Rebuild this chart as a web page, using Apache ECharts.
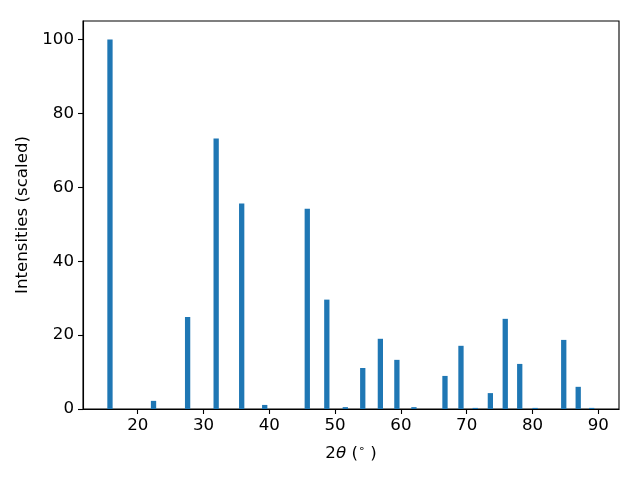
<!DOCTYPE html>
<html><head><meta charset="utf-8">
<script src="https://cdn.jsdelivr.net/npm/echarts@6/dist/echarts.min.js"></script>
<style>html,body{margin:0;padding:0;background:#fff}#c{width:640px;height:480px}</style>
</head><body><div id="c"></div>
<script>
const twoTheta = [15.78, 22.4, 27.58, 31.92, 35.8, 39.3, 45.77, 48.74, 51.55, 54.2, 56.88, 59.39, 61.98, 66.7, 69.13, 71.3, 73.6, 75.86, 78.06, 80.4, 84.75, 86.95, 89.0];
const intensity = [100, 2.2, 24.9, 73.2, 55.6, 1.1, 54.2, 29.6, 0.5, 11.1, 19.0, 13.3, 0.5, 8.95, 17.1, 0.3, 4.3, 24.4, 12.2, 0.3, 18.7, 6.0, 0.3];
const xTicks = [20, 30, 40, 50, 60, 70, 80, 90];
const yTicks = [0, 20, 40, 60, 80, 100];

const FONT = 'DejaVu Sans';
const FS = 16.67;
const chart = echarts.init(document.getElementById('c'), null, {renderer: 'canvas'});
chart.setOption({
  animation: false,
  grid: {left: 83, right: 21, top: 21, bottom: 71, show: true, borderColor: '#000', borderWidth: 1.1, backgroundColor: 'transparent'},
  xAxis: {
    type: 'value', min: 11.68, max: 93.15,
    name: '{n|2}{i|θ}{n| (}{s|∘}{n| )}', nameLocation: 'middle', nameGap: 35,
    nameTextStyle: {rich: {
      n: {fontFamily: FONT, fontSize: FS, color: '#000'},
      i: {fontFamily: FONT, fontSize: FS, fontStyle: 'italic', color: '#000'},
      s: {fontFamily: FONT, fontSize: 11, color: '#000', verticalAlign: 'top', padding: [0,0,8,0]}
    }},
    splitLine: {show: false},
    axisLine: {show: true, onZero: false, lineStyle: {color: '#000', width: 1.1}},
    axisTick: {show: true, customValues: xTicks, length: 5, lineStyle: {color: '#000', width: 1.1}},
    axisLabel: {customValues: xTicks, fontFamily: FONT, fontSize: FS, color: '#000', margin: 8}
  },
  yAxis: {
    type: 'value', min: 0, max: 105,
    name: 'Intensities (scaled)', nameLocation: 'middle', nameGap: 48,
    nameTextStyle: {fontFamily: FONT, fontSize: FS, color: '#000'},
    splitLine: {show: false},
    axisLine: {show: true, lineStyle: {color: '#000', width: 1.1}},
    axisTick: {show: true, customValues: yTicks, length: 5, lineStyle: {color: '#000', width: 1.1}},
    axisLabel: {customValues: yTicks, fontFamily: FONT, fontSize: FS, color: '#000', margin: 9}
  },
  series: [{
    type: 'bar',
    data: twoTheta.map((x, i) => [x, intensity[i]]),
    barWidth: 5.3,
    itemStyle: {color: '#1f77b4'}
  }]
});
</script></body></html>
